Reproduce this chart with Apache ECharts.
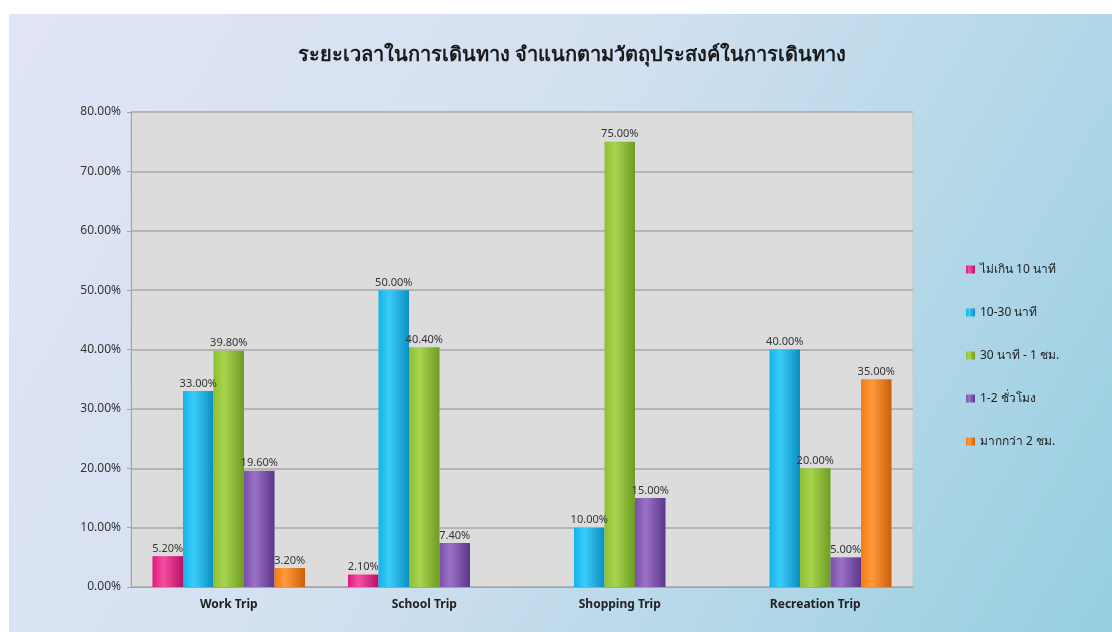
<!DOCTYPE html>
<html>
<head>
<meta charset="utf-8">
<script src="https://cdn.jsdelivr.net/npm/echarts@6/dist/echarts.min.js"></script>
<style>
html,body{margin:0;padding:0;background:#fff;}
#c{width:1112px;height:632px;}
</style>
</head>
<body>
<div id="c"></div>
<script>
const categories = ['Work Trip', 'School Trip', 'Shopping Trip', 'Recreation Trip'];
const seriesNames = ['ไม่เกิน 10 นาที', '10-30 นาที', '30 นาที - 1 ชม.', '1-2 ชั่วโมง', 'มากกว่า 2 ชม.'];
const under10 = [5.20, 2.10, null, null];
const m10to30 = [33.00, 50.00, 10.00, 40.00];
const m30to1h = [39.80, 40.40, 75.00, 20.00];
const h1to2 = [19.60, 7.40, 15.00, 5.00];
const over2h = [3.20, null, null, 35.00];
const yTicks = [0, 10, 20, 30, 40, 50, 60, 70, 80];
const titleText = 'ระยะเวลาในการเดินทาง จำแนกตามวัตถุประสงค์ในการเดินทาง';

const colors = [
  ['#f4509f', '#e0187e', '#b8106a'],
  ['#3cccf8', '#12b2ea', '#0a8ec2'],
  ['#a8d44e', '#8cbf32', '#6e9c22'],
  ['#9a72c8', '#7b4fa8', '#5c3688'],
  ['#ff9a3c', '#f47a14', '#cc5e08']
];
function grad(c) {
  return new echarts.graphic.LinearGradient(0, 0, 1, 0, [
    {offset: 0, color: c[1]},
    {offset: 0.35, color: c[0]},
    {offset: 1, color: c[2]}
  ]);
}
const data = [under10, m10to30, m30to1h, h1to2, over2h];
const chart = echarts.init(document.getElementById('c'));
chart.setOption({
  animation: false,
  textStyle: {fontFamily: 'Noto Sans, DejaVu Sans, sans-serif'},
  graphic: [{
    type: 'rect', z: -10, silent: true,
    shape: {x: 9, y: 14, width: 1103, height: 618},
    style: {fill: new echarts.graphic.LinearGradient(0, 0, 1, 1, [
      {offset: 0, color: '#e1e5f5'},
      {offset: 0.45, color: '#d2e0f0'},
      {offset: 1, color: '#96cfe0'}
    ])}
  }],
  title: {
    text: titleText, left: 567, top: 40, textAlign: 'center',
    textStyle: {fontSize: 20, fontWeight: 'bold', color: '#1a1a1a', fontFamily: 'Noto Sans, sans-serif'}
  },
  legend: {
    orient: 'vertical', left: 961, top: 256, itemGap: 26,
    itemWidth: 9, itemHeight: 8, icon: 'rect',
    textStyle: {fontSize: 12, color: '#222', fontFamily: 'Noto Sans, sans-serif', lineHeight: 17},
    data: seriesNames
  },
  grid: {
    left: 131, right: 199, top: 112, bottom: 45,
    show: true, backgroundColor: '#dcdcdc', borderColor: '#c8c8c8', borderWidth: 1
  },
  xAxis: {
    type: 'category', data: categories,
    axisLine: {lineStyle: {color: '#9aa4b4', width: 1}},
    axisTick: {show: false},
    axisLabel: {fontSize: 12, fontWeight: 'bold', color: '#222', margin: 12}
  },
  yAxis: {
    type: 'value', min: 0, max: 80, interval: 10,
    axisLine: {show: true, lineStyle: {color: '#9aa4b4'}},
    axisTick: {show: true, length: 4, lineStyle: {color: '#9aa4b4'}},
    axisLabel: {fontSize: 12, color: '#333', margin: 10, formatter: v => yTicks.includes(v) ? v.toFixed(2) + '%' : ''},
    splitLine: {lineStyle: {color: '#b4b4b4', width: 2}}
  },
  series: data.map((d, i) => ({
    name: seriesNames[i], type: 'bar', data: d,
    barGap: '0%', barCategoryGap: '22%',
    itemStyle: {color: grad(colors[i])},
    label: {
      show: true, position: 'top', distance: 2, fontSize: 11, color: '#333',
      formatter: p => p.value == null ? '' : p.value.toFixed(2) + '%'
    }
  }))
});
</script>
</body>
</html>
